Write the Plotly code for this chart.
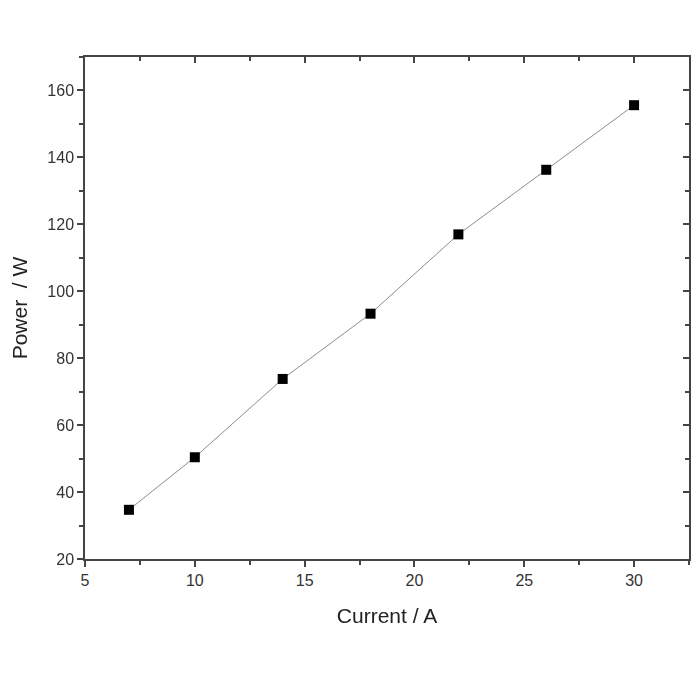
import plotly.graph_objects as go

# Leistung gegen Strom
current = [7, 10, 14, 18, 22, 26, 30]
power = [34.7, 50.4, 73.8, 93.3, 117.0, 136.3, 155.6]

x_range = [5, 32.5]
y_range = [20, 170]
x_ticks = [5, 10, 15, 20, 25, 30]
y_ticks = [20, 40, 60, 80, 100, 120, 140, 160]

axis_color = "#444444"
font_family = "Liberation Sans, Arial, sans-serif"

fig = go.Figure()

fig.add_trace(go.Scatter(
    x=current,
    y=power,
    mode="lines+markers",
    line=dict(color="#8c8c8c", width=1),
    marker=dict(symbol="square", size=10, color="black"),
    showlegend=False
))

# unsichtbare Kopie, damit die Spiegelachsen gezeichnet werden
fig.add_trace(go.Scatter(
    x=current,
    y=power,
    xaxis="x2",
    yaxis="y2",
    mode="markers",
    opacity=0,
    hoverinfo="skip",
    showlegend=False
))

tick_common = dict(tickwidth=1.5, tickcolor=axis_color, showline=True,
                   linecolor=axis_color, linewidth=1.5, showgrid=False,
                   zeroline=False, automargin=False)

fig.update_layout(
    width=700,
    height=700,
    paper_bgcolor="white",
    plot_bgcolor="white",
    # Seite hat 8px body-Rand, daher Raender entsprechend kleiner
    margin=dict(l=77, r=19, t=49, b=149),
    font=dict(family=font_family, color="#333333"),
    # Achsen unten/links: Ticks nach aussen
    xaxis=dict(
        range=x_range,
        title=dict(text="Current / A", font=dict(size=21, color="#222222"), standoff=20),
        tickvals=x_ticks,
        ticks="outside", ticklen=6,
        minor=dict(ticks="outside", dtick=2.5, tick0=5, ticklen=4, tickwidth=1.5, tickcolor=axis_color),
        tickfont=dict(size=16, color="#333333"),
        **tick_common
    ),
    yaxis=dict(
        range=y_range,
        title=dict(text="Power  / W", font=dict(size=21, color="#222222"), standoff=18),
        tickvals=y_ticks,
        ticks="outside", ticklen=6,
        minor=dict(ticks="outside", dtick=10, tick0=20, ticklen=4, tickwidth=1.5, tickcolor=axis_color),
        tickfont=dict(size=16, color="#333333"),
        **tick_common
    ),
    # Spiegelachsen oben/rechts: Ticks nach innen, ohne Beschriftung
    xaxis2=dict(
        range=x_range, overlaying="x", side="top", anchor="y2",
        tickvals=x_ticks,
        ticks="inside", ticklen=6,
        minor=dict(ticks="inside", dtick=2.5, tick0=5, ticklen=4, tickwidth=1.5, tickcolor=axis_color),
        showticklabels=False,
        **tick_common
    ),
    yaxis2=dict(
        range=y_range, overlaying="y", side="right", anchor="x2",
        tickvals=y_ticks,
        ticks="inside", ticklen=6,
        minor=dict(ticks="inside", dtick=10, tick0=20, ticklen=4, tickwidth=1.5, tickcolor=axis_color),
        showticklabels=False,
        **tick_common
    ),
)

fig.write_html("out.html")
